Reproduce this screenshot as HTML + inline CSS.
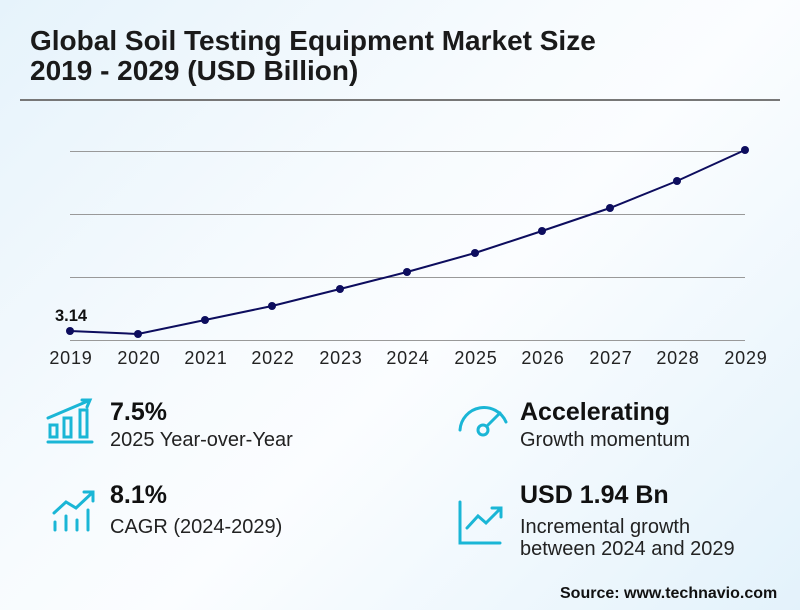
<!DOCTYPE html>
<html><head><style>
body{margin:0;width:800px;height:610px;overflow:hidden;font-family:"Liberation Sans",sans-serif;background:linear-gradient(135deg,#e6f3fb 0%,#f7fbfe 40%,#fbfdff 55%,#e3f2fb 100%);}
.t{position:absolute;left:30px;top:26px;font-size:28px;font-weight:bold;color:#1a1a1a;line-height:30px;}
.hr{position:absolute;left:20px;top:99px;width:760px;height:2px;background:#777;}
.b{position:absolute;font-size:25px;font-weight:bold;color:#111;}
.s{position:absolute;font-size:20px;color:#222;line-height:22px;}
</style></head><body>
<div class="t">Global Soil Testing Equipment Market Size<br>2019 - 2029 (USD Billion)</div>
<div class="hr"></div>
<svg width="800" height="610" style="position:absolute;left:0;top:0">
<g stroke="#999" stroke-width="1">
<line x1="70" y1="151.5" x2="745" y2="151.5"/><line x1="70" y1="214.5" x2="745" y2="214.5"/><line x1="70" y1="277.5" x2="745" y2="277.5"/><line x1="70" y1="340.5" x2="745" y2="340.5"/>
</g>
<polyline fill="none" stroke="#0d0d5e" stroke-width="2" points="70,331 138,334 205,320 272,306 340,289 407,272 475,253 542,231 610,208 677,181 745,150"/>
<g fill="#0d0d5e">
<circle cx="70" cy="331" r="4"/><circle cx="138" cy="334" r="4"/><circle cx="205" cy="320" r="4"/><circle cx="272" cy="306" r="4"/><circle cx="340" cy="289" r="4"/><circle cx="407" cy="272" r="4"/><circle cx="475" cy="253" r="4"/><circle cx="542" cy="231" r="4"/><circle cx="610" cy="208" r="4"/><circle cx="677" cy="181" r="4"/><circle cx="745" cy="150" r="4"/>
</g>
<text x="55" y="321" font-size="16.5" font-weight="bold" fill="#111" font-family="Liberation Sans">3.14</text>
<g font-size="18" fill="#222" text-anchor="middle" font-family="Liberation Sans" letter-spacing="0.8">
<text x="71" y="364">2019</text><text x="139" y="364">2020</text><text x="206" y="364">2021</text><text x="273" y="364">2022</text><text x="341" y="364">2023</text><text x="408" y="364">2024</text><text x="476" y="364">2025</text><text x="543" y="364">2026</text><text x="611" y="364">2027</text><text x="678" y="364">2028</text><text x="746" y="364">2029</text>
</g>
<g stroke="#1ab6d6" stroke-width="3" fill="none" stroke-linecap="round">
<line x1="48" y1="442" x2="92" y2="442"/>
<rect x="50" y="425" width="7" height="12"/><rect x="64" y="418" width="7" height="19"/><rect x="80" y="410" width="7" height="27"/>
<polyline points="48,418 88,401"/><polyline points="82,400 90,400 87,407"/>
<line x1="55" y1="522" x2="55" y2="530"/><line x1="66" y1="516" x2="66" y2="530"/><line x1="77" y1="520" x2="77" y2="530"/><line x1="88" y1="510" x2="88" y2="530"/>
<polyline points="54,513 66,502 76,508 92,493"/><polyline points="84,492 93,492 93,501"/>
<path d="M460,430 A24,24 0 0 1 506,422"/>
<circle cx="483" cy="430" r="5"/><line x1="487" y1="426" x2="500" y2="413"/>
<polyline points="460,502 460,543 500,543"/><polyline points="467,528 478,516 486,523 500,509"/><polyline points="492,508 501,508 501,517"/>
</g>
</svg>
<div class="b" style="left:110px;top:398px">7.5%</div>
<div class="s" style="left:110px;top:429px">2025 Year-over-Year</div>
<div class="b" style="left:110px;top:481px">8.1%</div>
<div class="s" style="left:110px;top:516px">CAGR (2024-2029)</div>
<div class="b" style="left:520px;top:398px">Accelerating</div>
<div class="s" style="left:520px;top:429px">Growth momentum</div>
<div class="b" style="left:520px;top:481px">USD 1.94 Bn</div>
<div class="s" style="left:520px;top:516px">Incremental growth<br>between 2024 and 2029</div>
<div style="position:absolute;left:560px;top:585px;font-size:16px;font-weight:bold;color:#111">Source: www.technavio.com</div>
</body></html>
